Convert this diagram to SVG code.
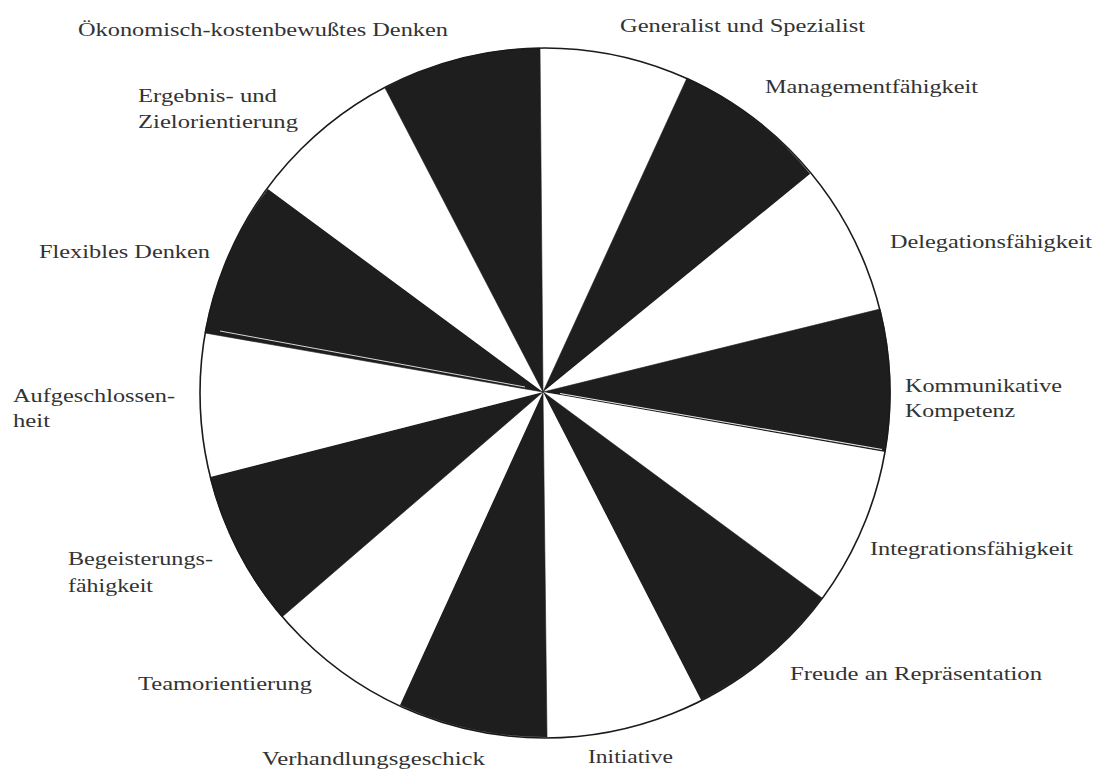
<svg xmlns="http://www.w3.org/2000/svg" width="1096" height="771" viewBox="0 0 1096 771">
<style>
.lbl{font-family:"Liberation Serif","Times New Roman",serif;font-size:19px;fill:#333}
.blk{fill:#1e1e1e;stroke:#1e1e1e;stroke-width:0.6}
.wht{fill:#ffffff}
</style>
<rect x="0" y="0" width="1096" height="771" fill="#ffffff"/>
<g id="sectors">
<g id="s-generalist"><path class="wht" d="M543 392 L540 48 A345 345 0 0 1 687 78 Z"/></g>
<g id="s-management"><path class="blk" d="M543 392 L687 78 A345 345 0 0 1 810 174 Z"/></g>
<g id="s-delegation"><path class="wht" d="M543 392 L810 174 A345 345 0 0 1 880 309 Z"/></g>
<g id="s-kommunikation"><path class="blk" d="M543 392 L880 309 A345 345 0 0 1 885 452 Z"/></g>
<g id="s-integration"><path class="wht" d="M543 392 L885 452 A345 345 0 0 1 822 598 Z"/></g>
<g id="s-freude"><path class="blk" d="M543 392 L822 598 A345 345 0 0 1 701 700 Z"/></g>
<g id="s-initiative"><path class="wht" d="M543 392 L701 700 A345 345 0 0 1 547 737 Z"/></g>
<g id="s-verhandlung"><path class="blk" d="M543 392 L547 737 A345 345 0 0 1 400 705 Z"/></g>
<g id="s-team"><path class="wht" d="M543 392 L400 705 A345 345 0 0 1 282 617 Z"/></g>
<g id="s-begeisterung"><path class="blk" d="M543 392 L282 617 A345 345 0 0 1 210 477 Z"/></g>
<g id="s-aufgeschlossen"><path class="wht" d="M543 392 L210 477 A345 345 0 0 1 205 333 Z"/></g>
<g id="s-flexibel"><path class="blk" d="M543 392 L205 333 A345 345 0 0 1 268 189 Z"/></g>
<g id="s-ergebnis"><path class="wht" d="M543 392 L268 189 A345 345 0 0 1 385 88 Z"/></g>
<g id="s-oekonomisch"><path class="blk" d="M543 392 L385 88 A345 345 0 0 1 540 48 Z"/></g>
</g>
<g id="connectors">
<line x1="560" y1="393.5" x2="882" y2="449.5" stroke="#e8e8e8" stroke-width="1.1"/>
<line x1="220" y1="331" x2="525" y2="387" stroke="#d8d8d8" stroke-width="1"/>
<circle cx="545" cy="393" r="345" fill="none" stroke="#1a1a1a" stroke-width="1.6"/>
</g>
<g id="labels">
<g id="n-oekonomisch"><text class="lbl" x="78" y="36" textLength="370" lengthAdjust="spacingAndGlyphs">Ökonomisch-kostenbewußtes Denken</text></g>
<g id="n-generalist"><text class="lbl" x="620" y="32" textLength="245" lengthAdjust="spacingAndGlyphs">Generalist und Spezialist</text></g>
<g id="n-management"><text class="lbl" x="765" y="93" textLength="213" lengthAdjust="spacingAndGlyphs">Managementfähigkeit</text></g>
<g id="n-delegation"><text class="lbl" x="890" y="248" textLength="202" lengthAdjust="spacingAndGlyphs">Delegationsfähigkeit</text></g>
<g id="n-kommunikation"><text class="lbl" x="905" y="392" textLength="157" lengthAdjust="spacingAndGlyphs">Kommunikative</text><text class="lbl" x="905" y="417" textLength="110" lengthAdjust="spacingAndGlyphs">Kompetenz</text></g>
<g id="n-integration"><text class="lbl" x="870" y="555" textLength="203" lengthAdjust="spacingAndGlyphs">Integrationsfähigkeit</text></g>
<g id="n-freude"><text class="lbl" x="790" y="680" textLength="252" lengthAdjust="spacingAndGlyphs">Freude an Repräsentation</text></g>
<g id="n-initiative"><text class="lbl" x="588" y="763" textLength="85" lengthAdjust="spacingAndGlyphs">Initiative</text></g>
<g id="n-verhandlung"><text class="lbl" x="262" y="765" textLength="223" lengthAdjust="spacingAndGlyphs">Verhandlungsgeschick</text></g>
<g id="n-team"><text class="lbl" x="138" y="690" textLength="174" lengthAdjust="spacingAndGlyphs">Teamorientierung</text></g>
<g id="n-begeisterung"><text class="lbl" x="68" y="565" textLength="145" lengthAdjust="spacingAndGlyphs">Begeisterungs-</text><text class="lbl" x="68" y="592" textLength="85" lengthAdjust="spacingAndGlyphs">fähigkeit</text></g>
<g id="n-aufgeschlossen"><text class="lbl" x="13" y="402" textLength="162" lengthAdjust="spacingAndGlyphs">Aufgeschlossen-</text><text class="lbl" x="13" y="427" textLength="37" lengthAdjust="spacingAndGlyphs">heit</text></g>
<g id="n-flexibel"><text class="lbl" x="39" y="258" textLength="171" lengthAdjust="spacingAndGlyphs">Flexibles Denken</text></g>
<g id="n-ergebnis"><text class="lbl" x="138" y="102" textLength="139" lengthAdjust="spacingAndGlyphs">Ergebnis- und</text><text class="lbl" x="138" y="128" textLength="160" lengthAdjust="spacingAndGlyphs">Zielorientierung</text></g>
</g>
</svg>
